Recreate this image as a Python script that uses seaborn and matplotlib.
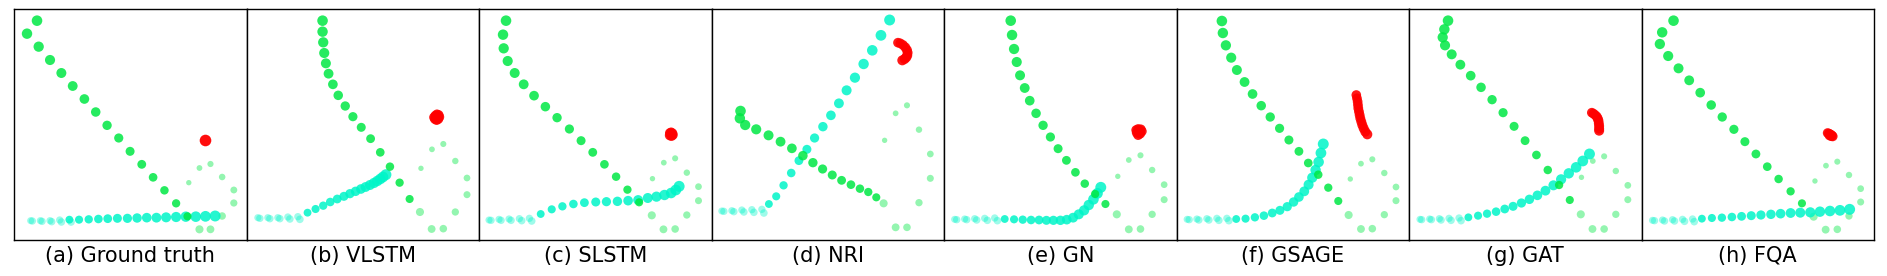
import numpy as np
import matplotlib
matplotlib.use("Agg")
import matplotlib.pyplot as plt
import seaborn as sns

# panel titles
titles = ["(a) Ground truth", "(b) VLSTM", "(c) SLSTM", "(d) NRI",
          "(e) GN", "(f) GSAGE", "(g) GAT", "(h) FQA"]

# agent positions (image units, y grows downward), in time order
# --- (a) ground truth
ring_a = [(524, 521), (556, 477), (589, 465), (624, 504), (659, 543), (659, 582), (624, 621), (589, 661), (556, 661)]
green_a = [(520, 622), (486, 583), (451, 544), (417, 505), (383, 466), (348, 427), (314, 387), (279, 349),
           (245, 309), (211, 270), (176, 231), (142, 192), (108, 153), (74, 113), (39, 74), (69, 35)]
hist_a = [(50, 635), (79, 635), (108, 635), (137, 633), (55, 636), (84, 637), (113, 638), (142, 639), (171, 639)]
cyan_a = [(166, 632), (195, 632), (224, 631), (253, 630), (281, 629), (310, 628), (340, 628), (369, 627),
          (398, 626), (427, 626), (456, 625), (486, 624), (515, 623), (545, 623), (574, 622), (603, 621)]
red_a = [(574, 392)]

# --- (b) VLSTM
ring_b = [(523, 478), (556, 421), (590, 405), (626, 456), (661, 507), (661, 557), (626, 609), (590, 659), (555, 660), (520, 609)]
green_b = [(489, 570), (459, 521), (430, 473), (401, 430), (372, 389), (344, 355), (319, 323), (296, 291),
           (275, 259), (259, 226), (246, 194), (238, 163), (233, 132), (230, 100), (228, 68), (228, 35)]
hist_b = [(34, 626), (64, 626), (94, 626), (124, 624), (154, 623), (40, 628), (70, 629), (100, 629), (130, 630), (160, 631)]
cyan_b = [(183, 611), (207, 600), (230, 590), (251, 579), (272, 570), (292, 562), (310, 554), (327, 547),
          (343, 540), (357, 534), (370, 528), (382, 522), (392, 516), (401, 510), (409, 504), (418, 497)]
red_b = [(562, 325), (566, 320), (571, 316), (576, 318), (578, 324), (575, 330), (570, 333), (565, 330), (568, 322), (573, 325)]

# --- (c) SLSTM
ring_c = [(520, 509), (554, 461), (588, 448), (623, 491), (658, 533), (658, 575), (623, 618), (588, 660), (553, 661), (518, 619)]
green_c = [(480, 580), (445, 542), (411, 503), (376, 466), (341, 430), (306, 395), (271, 360), (234, 326),
           (199, 293), (165, 260), (134, 226), (107, 192), (86, 156), (74, 118), (72, 77), (81, 35)]
hist_c = [(30, 633), (60, 631), (90, 630), (121, 629), (151, 628), (36, 634), (66, 634), (96, 634), (128, 635), (158, 636)]
cyan_c = [(185, 615), (218, 601), (250, 592), (283, 585), (316, 581), (350, 579), (382, 578), (415, 577),
          (447, 575), (477, 573), (506, 567), (532, 563), (556, 558), (576, 552), (590, 543), (600, 532)]
red_c = [(572, 372), (576, 370), (580, 373), (581, 378), (577, 381), (572, 379), (576, 375)]

# --- (d) NRI
ring_d = [(519, 394), (552, 313), (586, 289), (622, 362), (656, 435), (656, 508), (622, 581), (586, 655), (552, 655), (516, 583)]
green_d = [(494, 565), (470, 549), (445, 539), (418, 527), (390, 514), (362, 498), (333, 480), (304, 461),
           (274, 440), (241, 418), (207, 398), (171, 379), (134, 361), (101, 348), (85, 328), (87, 306)]
hist_d = [(31, 606), (61, 605), (91, 603), (121, 602), (151, 601), (37, 607), (67, 608), (97, 609), (127, 610), (157, 612)]
cyan_d = [(172, 585), (194, 562), (216, 529), (239, 492), (262, 455), (286, 421), (309, 387), (334, 353),
          (358, 319), (382, 283), (405, 244), (430, 206), (456, 165), (482, 124), (508, 79), (534, 33)]
red_d = [(559, 101), (566, 103), (574, 108), (581, 115), (586, 123), (588, 131), (587, 139), (584, 145), (579, 150), (572, 154)]

# --- (e) GN
ring_e = [(521, 502), (554, 453), (589, 439), (624, 483), (660, 527), (660, 572), (624, 616), (589, 660), (554, 661), (518, 616)]
green_e = [(484, 585), (453, 555), (422, 524), (394, 490), (367, 454), (342, 419), (319, 384), (297, 349),
           (276, 313), (257, 275), (242, 237), (228, 199), (218, 159), (210, 120), (204, 78), (200, 35)]
hist_e = [(32, 631), (62, 630), (92, 629), (122, 628), (152, 627), (38, 632), (68, 632), (98, 633), (130, 634), (160, 635)]
cyan_e = [(182, 630), (210, 631), (236, 632), (261, 633), (285, 633), (307, 634), (328, 634), (349, 634),
          (368, 632), (387, 626), (404, 616), (420, 604), (434, 588), (448, 571), (460, 553), (470, 535)]
red_e = [(576, 363), (582, 360), (590, 361), (593, 367), (588, 374), (582, 378), (578, 371), (585, 367)]

# --- (f) GSAGE
ring_f = [(521, 510), (553, 464), (587, 451), (623, 492), (658, 534), (658, 575), (623, 617), (587, 659), (553, 660), (516, 618)]
green_f = [(485, 576), (455, 536), (425, 497), (395, 462), (367, 427), (337, 393), (309, 358), (281, 324),
           (254, 290), (228, 255), (204, 219), (181, 183), (164, 146), (148, 109), (139, 72), (136, 36)]
hist_f = [(32, 631), (61, 630), (91, 629), (121, 628), (151, 628), (38, 632), (67, 633), (97, 633), (127, 634), (157, 635)]
cyan_f = [(179, 630), (207, 629), (235, 625), (262, 620), (287, 612), (310, 604), (332, 593), (351, 579),
          (367, 564), (383, 547), (396, 527), (407, 506), (417, 483), (426, 459), (433, 432), (440, 405)]
red_f = [(539, 258), (541, 268), (543, 278), (544, 288), (545, 298), (547, 308), (549, 318), (551, 328),
         (554, 338), (557, 348), (561, 358), (566, 368), (572, 376)]

# --- (g) GAT
ring_g = [(517, 505), (551, 456), (585, 442), (620, 486), (656, 529), (656, 572), (620, 616), (585, 660), (550, 660), (515, 616)]
green_g = [(482, 573), (450, 528), (416, 483), (382, 438), (348, 395), (315, 352), (282, 311), (249, 272),
           (216, 235), (185, 200), (154, 167), (128, 136), (108, 109), (101, 85), (106, 61), (117, 35)]
hist_g = [(33, 631), (62, 630), (91, 629), (120, 628), (150, 627), (38, 632), (67, 632), (96, 633), (126, 634), (156, 635)]
cyan_g = [(178, 625), (207, 620), (234, 614), (261, 608), (287, 600), (312, 592), (337, 582), (361, 571),
          (385, 559), (409, 545), (433, 529), (456, 511), (479, 493), (501, 475), (521, 456), (541, 435)]
red_g = [(548, 311), (553, 314), (558, 318), (563, 323), (566, 329), (568, 335), (569, 343), (570, 351), (570, 359), (570, 365)]

# --- (h) FQA
ring_h = [(520, 516), (553, 470), (587, 458), (622, 498), (657, 539), (657, 579), (622, 621), (587, 661), (552, 662), (516, 623)]
green_h = [(481, 583), (447, 547), (411, 510), (377, 473), (343, 435), (310, 398), (277, 361), (242, 324),
           (209, 288), (176, 251), (143, 214), (111, 178), (80, 141), (55, 105), (62, 70), (96, 35)]
hist_h = [(33, 634), (63, 633), (93, 632), (123, 631), (153, 630), (39, 635), (69, 636), (99, 636), (129, 637), (158, 638)]
cyan_h = [(181, 629), (211, 627), (241, 626), (271, 624), (300, 622), (329, 620), (358, 618), (388, 616),
          (417, 614), (447, 612), (476, 611), (506, 610), (535, 608), (565, 606), (595, 604), (624, 601)]
red_h = [(558, 372), (562, 374), (566, 376), (570, 379), (573, 382), (569, 381), (564, 379)]

panels = [
    (ring_a, hist_a, cyan_a, green_a, red_a),
    (ring_b, hist_b, cyan_b, green_b, red_b),
    (ring_c, hist_c, cyan_c, green_c, red_c),
    (ring_d, hist_d, cyan_d, green_d, red_d),
    (ring_e, hist_e, cyan_e, green_e, red_e),
    (ring_f, hist_f, cyan_f, green_f, red_f),
    (ring_g, hist_g, cyan_g, green_g, red_g),
    (ring_h, hist_h, cyan_h, green_h, red_h),
]

GREEN = "#00e844"
CYAN = "#00f5c8"
RED = "#ff0000"

sns.set_style("white")
plt.rcParams["font.family"] = ["DejaVu Sans"]


def dots(ax, pts, color, smin, smax, alpha):
    pts = np.array(pts, dtype=float)
    t = np.arange(len(pts))
    sns.scatterplot(x=pts[:, 0], y=pts[:, 1], size=t, sizes=(smin, smax),
                    color=color, alpha=alpha, linewidth=0, legend=False, ax=ax)


fig, axes = plt.subplots(1, 8, figsize=(18.87, 2.76), dpi=100)
fig.subplots_adjust(left=14 / 1887, right=1874 / 1887, top=1 - 9 / 276,
                    bottom=1 - 240 / 276, wspace=0)

for ax, title, (ring, hist, cyan, green, red) in zip(axes, titles, panels):
    dots(ax, ring, GREEN, 15, 34, 0.42)
    dots(ax, hist, CYAN, 26, 30, 0.38)
    dots(ax, cyan, CYAN, 32, 62, 0.85)
    dots(ax, green, GREEN, 34, 58, 0.85)
    if len(red) == 1:
        r = np.array(red, dtype=float)
        sns.scatterplot(x=r[:, 0], y=r[:, 1], s=70, color=RED, alpha=0.95,
                        linewidth=0, legend=False, ax=ax)
    else:
        dots(ax, red, RED, 48, 52, 0.9)
    ax.set_xlim(0, 697)
    ax.set_ylim(693, 0)
    ax.set_xticks([])
    ax.set_yticks([])
    ax.set_xlabel(title, fontsize=15, labelpad=4, color="black")
    ax.set_ylabel("")
    for sp in ax.spines.values():
        sp.set_visible(True)
        sp.set_color("black")
        sp.set_linewidth(1.0)

fig.savefig("out.png", dpi=100)
